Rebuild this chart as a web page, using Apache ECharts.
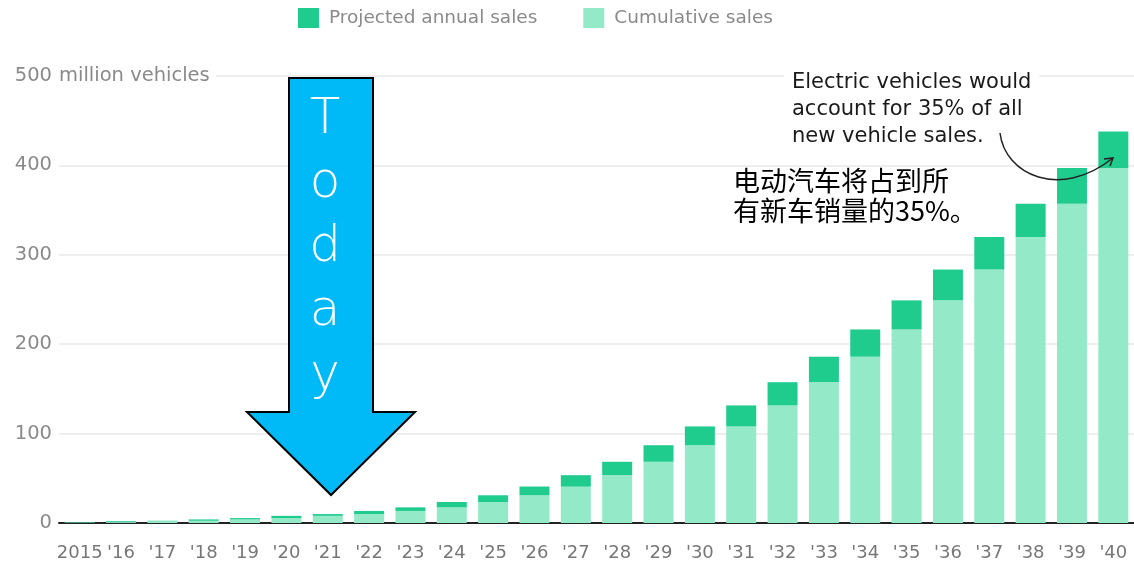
<!DOCTYPE html>
<html>
<head>
<meta charset="utf-8">
<script src="https://cdn.jsdelivr.net/npm/echarts@6/dist/echarts.min.js"></script>
<style>
  html, body { margin: 0; padding: 0; background: #fff; }
  #chart { width: 1134px; height: 567px; }
</style>
</head>
<body>
<div id="chart"></div>
<script>
    'use strict';

    // EV sales outlook, million vehicles
    var years = ['2015', "'16", "'17", "'18", "'19", "'20", "'21", "'22", "'23", "'24", "'25", "'26", "'27",
        "'28", "'29", "'30", "'31", "'32", "'33", "'34", "'35", "'36", "'37", "'38", "'39", "'40"];
    var cumulative = [0.5, 1, 2, 2.5, 4, 5.5, 8, 10, 13.5, 17.5, 23.5, 31, 40.7, 53.5, 68.5, 87, 108,
        131.5, 157.5, 186, 216.5, 249, 283.5, 320, 357, 397];
    var annual = [0.5, 1, 0.5, 1.5, 1.5, 2.5, 2, 3.5, 4, 6, 7.5, 9.8, 12.8, 15, 18.5, 21, 23.5,
        26, 28.5, 30.5, 32.5, 34.5, 36.5, 37, 40, 41];
    var yTicks = [0, 100, 200, 300, 400, 500];

    var grey = '#8a8a8a';
    var font = '"DejaVu Sans", sans-serif';

    var chart = echarts.init(document.getElementById('chart'));

    var option = {
        animation: false,
        legend: {
            left: 293,
            top: 3,
            itemWidth: 21,
            itemHeight: 20,
            itemGap: 46,
            icon: 'rect',
            data: ['Projected annual sales', 'Cumulative sales'],
            textStyle: { color: grey, fontSize: 18.5, fontFamily: font, padding: [0, 0, 0, 5] }
        },
        grid: { left: 59, top: 76, width: 1082, height: 447 },
        xAxis: {
            type: 'category',
            data: years,
            axisLine: { lineStyle: { color: '#222', width: 2 } },
            axisTick: { alignWithLabel: true, length: 10, lineStyle: { color: '#999' } },
            axisLabel: { color: '#777', fontSize: 18, fontFamily: font, margin: 21, interval: 0 }
        },
        yAxis: {
            type: 'value',
            min: yTicks[0],
            max: yTicks[yTicks.length - 1],
            interval: 100,
            name: 'million vehicles',
            nameLocation: 'end',
            nameGap: 0,
            nameTextStyle: {
                color: grey, fontSize: 19.5, fontFamily: font, align: 'left', verticalAlign: 'middle',
                backgroundColor: '#fff', padding: [2, 6, 2, 0]
            },
            axisLine: { show: false },
            axisTick: { show: false },
            splitLine: { lineStyle: { color: '#e8e8e8', width: 1.5 } },
            axisLabel: { color: grey, fontSize: 19.5, fontFamily: font, margin: 7, align: 'right' }
        },
        series: [
            {
                name: 'Cumulative sales',
                type: 'bar',
                stack: 'ev',
                barWidth: 30,
                itemStyle: { color: '#94e9c9' },
                data: cumulative
            },
            {
                name: 'Projected annual sales',
                type: 'bar',
                stack: 'ev',
                barWidth: 30,
                itemStyle: { color: '#20cb8e' },
                data: annual
            }
        ],
        graphic: [
            // "Today" arrow
            {
                type: 'polygon',
                z: 100,
                shape: {
                    points: [[289, 78], [373, 78], [373, 412], [415, 412], [331, 495], [247, 412], [289, 412]]
                },
                style: { fill: '#00b9f7', stroke: '#000', lineWidth: 2 }
            },
            {
                type: 'text',
                z: 101,
                x: 325,
                y: 88,
                style: {
                    text: 'T\no\nd\na\ny',
                    fill: '#fff',
                    font: '300 50px "DejaVu Sans Light", "DejaVu Sans ExtraLight", "Open Sans", sans-serif',
                    lineHeight: 64,
                    align: 'center',
                    verticalAlign: 'top'
                }
            },
            // annotation
            {
                type: 'text',
                z: 100,
                x: 784,
                y: 69,
                style: {
                    text: 'Electric vehicles would\naccount for 35% of all\nnew vehicle sales.',
                    fill: '#1a1a1a',
                    font: '21px "DejaVu Sans", sans-serif',
                    lineHeight: 27,
                    backgroundColor: '#fff',
                    padding: [0, 8, 0, 8]
                }
            },
            {
                type: 'text',
                z: 100,
                x: 733,
                y: 166,
                style: {
                    text: '电动汽车将占到所\n有新车销量的35%。',
                    fill: '#000',
                    font: '27px "Noto Sans CJK SC", sans-serif',
                    lineHeight: 30
                }
            },
            {
                type: 'bezierCurve',
                z: 100,
                shape: { x1: 1000, y1: 133, cpx1: 1005, cpy1: 175, cpx2: 1060, cpy2: 200, x2: 1113, y2: 158 },
                style: { stroke: '#222', lineWidth: 1.5, fill: null }
            },
            {
                type: 'polyline',
                z: 100,
                shape: { points: [[1104, 159], [1113, 158], [1110, 166]] },
                style: { stroke: '#222', lineWidth: 1.5, fill: null }
            }
        ]
    };

    chart.setOption(option);
</script>
</body>
</html>
